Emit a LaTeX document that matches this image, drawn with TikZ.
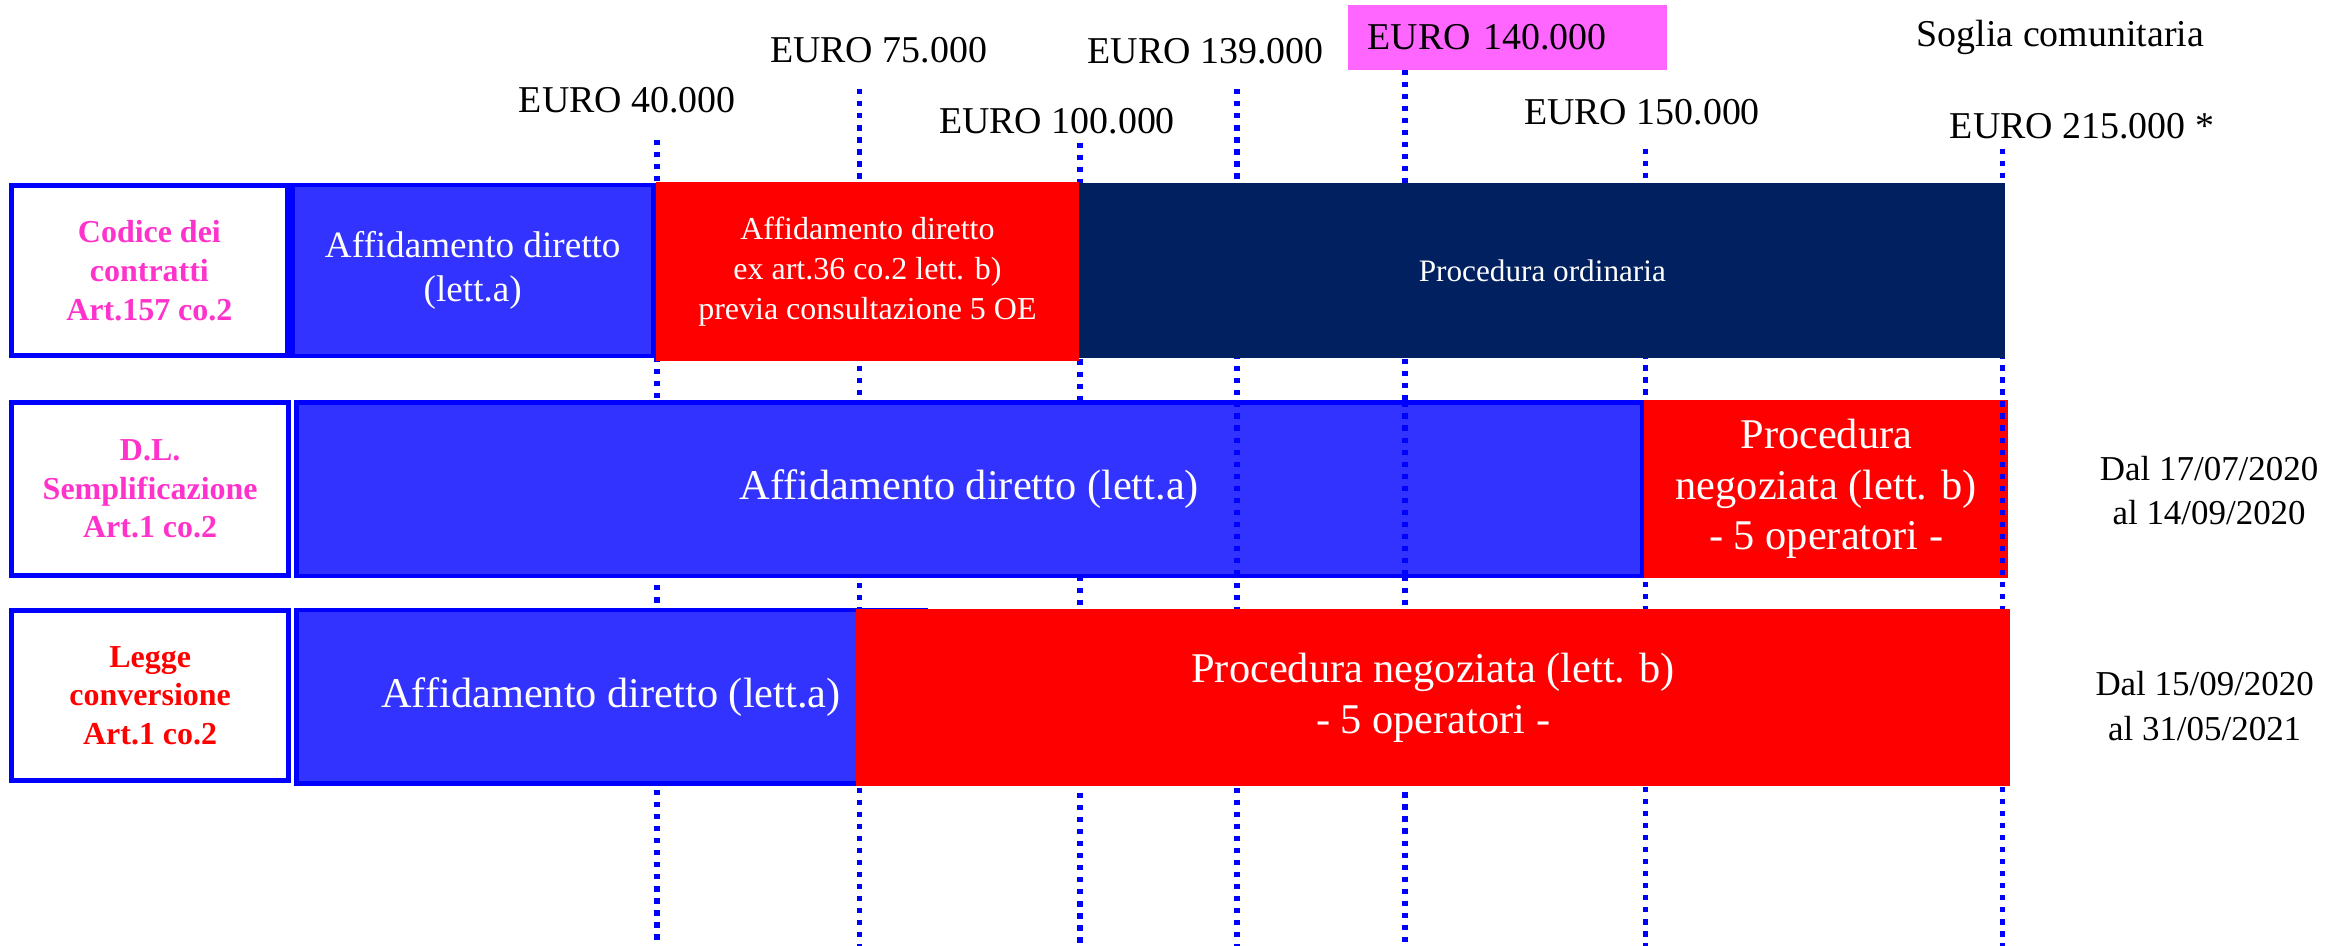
\documentclass[tikz,border=0pt]{standalone}
\usepackage{fontspec}
\setmainfont{Liberation Serif}
\usepackage{tikz}
\definecolor{boxblue}{HTML}{3333FF}
\definecolor{lineblue}{HTML}{0000FF}
\definecolor{navy}{HTML}{002060}
\definecolor{lawpink}{HTML}{FF33CC}
\definecolor{tagpink}{HTML}{FF66FF}

\begin{document}
\begin{tikzpicture}[x=1pt,y=-1pt,
  guide/.style={lineblue, line width=3.6pt, dash pattern=on 3.5pt off 4.6pt},
  law/.style={draw=lineblue, line width=3.6pt, fill=white, inner sep=0pt, align=center,
    font=\fontsize{21.5}{26}\selectfont\bfseries},
  affbox/.style={draw=lineblue, line width=3.1pt, fill=boxblue, inner sep=0pt, align=center, text=white},
  procbox/.style={fill=red, inner sep=0pt, align=center, text=white},
  euro/.style={inner sep=0pt, anchor=base, font=\fontsize{25.5}{30}\selectfont},
  big/.style={font=\fontsize{28.5}{34}\selectfont},
  period/.style={inner sep=0pt, align=center, font=\fontsize{23.5}{30}\selectfont}]
\useasboundingbox (0,0) rectangle (1568,636.3);

% soglie
\node[fill=tagpink, inner xsep=13pt, inner ysep=0pt, text width=188pt, minimum height=43.6pt,
  align=left, font=\fontsize{25.5}{30}\selectfont] (e140) at (1014,25.2) {EURO 140.000};
\node[euro] (e40) at (422,76) {EURO 40.000};
\node[euro] (e75) at (591,42.2) {EURO 75.000};
\node[euro] (e100) at (711,89.7) {EURO 100.000};
\node[euro] (e139) at (811,42.6) {EURO 139.000};
\node[euro] (e150) at (1104.5,84) {EURO 150.000};
\node[euro] (soglia) at (1386,31) {Soglia comunitaria};
\node[euro] (e215) at (1400.5,93) {EURO 215.000 *};
\foreach \x/\y in {442/94,578/60,726.5/96,832/60,945/47,1107/100,1347/100}
  \draw[guide] (\x,\y) -- (\x,636.3);

% Codice dei contratti
\node[law, text=lawpink, minimum width=185.4, minimum height=114.4] (cod) at (100.5,182)
  {Codice dei\\contratti\\Art.157 co.2};
\node[affbox, minimum width=242.9, minimum height=114.9, font=\fontsize{25}{30}\selectfont]
  (cod-a) at (318,182) {Affidamento diretto\\(lett.a)};
\node[procbox, minimum width=285, minimum height=120.2, font=\fontsize{21.5}{27}\selectfont]
  (cod-b) at (583.5,182.7) {Affidamento diretto\\ex art.36 co.2 lett. b)\\previa consultazione 5 OE};
\node[fill=navy, text=white, inner sep=0pt, minimum width=623, minimum height=118,
  font=\fontsize{21}{25}\selectfont] (cod-c) at (1037.5,182) {Procedura ordinaria};

% D.L. Semplificazione
\node[law, text=lawpink, minimum width=186.4, minimum height=116.4] (dl) at (101,329)
  {D.L.\\Semplificazione\\Art.1 co.2};
\node[affbox, big, minimum width=904.9, minimum height=116.9] (dl-a) at (652,329)
  {Affidamento diretto (lett.a)};
\node[procbox, big, minimum width=245, minimum height=120] (dl-b) at (1228.5,329)
  {Procedura\\negoziata (lett. b)\\- 5 operatori -};
\foreach \x in {832,945,1347}
  \draw[guide] (\x,270) -- (\x,388);
\node[period] (dl-t) at (1486,330) {Dal 17/07/2020\\al 14/09/2020};

% Legge conversione
\node[law, text=red, minimum width=186.4, minimum height=114.4] (lc) at (101,468)
  {Legge\\conversione\\Art.1 co.2};
\node[affbox, big, minimum width=422.9, minimum height=116.6] (lc-a) at (411,468.65)
  {Affidamento diretto (lett.a)};
\node[procbox, big, minimum width=776, minimum height=119.5] (lc-b) at (964,469.25)
  {Procedura negoziata (lett. b)\\- 5 operatori -};
\node[period] (lc-t) at (1483,475) {Dal 15/09/2020\\al 31/05/2021};
\end{tikzpicture}
\end{document}
